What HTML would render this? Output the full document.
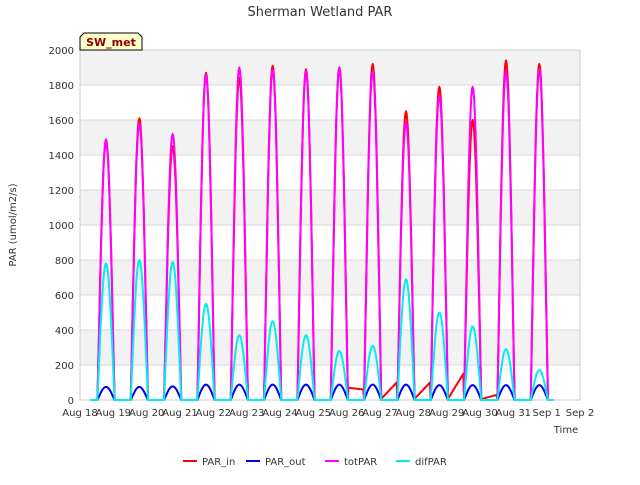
<!DOCTYPE html>
<html><head><meta charset="utf-8"><style>
body{margin:0;background:#fff;font-family:"Liberation Sans","DejaVu Sans",sans-serif}
svg text{font-family:"DejaVu Sans","Liberation Sans",sans-serif}
</style></head><body>
<svg id="c" width="640" height="480" xmlns="http://www.w3.org/2000/svg">
<text x="320" y="16" text-anchor="middle" font-size="13" fill="#333">Sherman Wetland PAR</text>
<g id="bands"></g>
<g id="grid"></g>
<g id="series"></g>
<g id="axes"></g>
<text x="16" y="225" transform="rotate(-90 16 225)" text-anchor="middle" font-size="10" fill="#333">PAR (umol/m2/s)</text>
<text x="566" y="433" text-anchor="middle" font-size="10" fill="#333">Time</text>
<g>
<path d="M80,50 L80,37 L84,33 L138,33 L142,37 L142,50 Z" fill="#ffffcc" stroke="#000" stroke-width="1"/>
<text x="111" y="46" text-anchor="middle" font-size="11" font-weight="bold" fill="#8b0000">SW_met</text>
</g>
<g id="legend"></g>
</svg>
<script>
const NS="http://www.w3.org/2000/svg";
const days=["Aug 18","Aug 19","Aug 20","Aug 21","Aug 22","Aug 23","Aug 24","Aug 25","Aug 26","Aug 27","Aug 28","Aug 29","Aug 30","Aug 31","Sep 1","Sep 2"];
const yTicks=[0,200,400,600,800,1000,1200,1400,1600,1800,2000];
const parInPeaks=[1480,1610,1450,1870,1840,1910,1890,1900,1920,1650,1790,1600,1940,1920];
const totParPeaks=[1490,1580,1520,1860,1900,1890,1880,1900,1880,1590,1740,1790,1880,1890];
const difParPeaks=[780,800,790,550,370,450,370,280,310,690,500,420,290,170];
const parOutPeaks=[75,75,78,88,88,88,88,88,88,88,85,85,85,85];
const parInNight=[[8.05,70],[8.5,60],[9.05,10],[9.5,100],[10.05,10],[10.5,100],[11.05,10],[11.5,150],[12.05,5],[12.5,30]];
const X0=80,X1=580,Y0=400,Y1=50;
const xs=t=>X0+(X1-X0)*t/15;
const ys=v=>Y0-(Y0-Y1)*v/2000;
const svg=document.getElementById('c');
function el(tag,attrs,parent){const e=document.createElementNS(NS,tag);for(const k in attrs)e.setAttribute(k,attrs[k]);parent.appendChild(e);return e;}
const bands=document.getElementById('bands');
for(let i=0;i<yTicks.length-1;i++){
  const r=el('rect',{x:X0,y:ys(yTicks[i+1]),width:X1-X0,height:ys(yTicks[i])-ys(yTicks[i+1]),fill:i%2?'#f2f2f2':'#ffffff'},bands);
  
  
}
const grid=document.getElementById('grid'),axes=document.getElementById('axes');
yTicks.forEach(v=>{
  const l=el('line',{x1:X0,x2:X1,y1:ys(v),y2:ys(v),stroke:'#d8d8d8','stroke-width':1},grid);
  
  
  const t=el('text',{x:X0-6,y:ys(v)+4,'text-anchor':'end','font-size':10,fill:'#333'},axes);
  t.textContent=v;
  
  
});
el('rect',{x:X0,y:Y1,width:X1-X0,height:Y0-Y1,fill:'none',stroke:'#ccc'},grid);
days.forEach((d,i)=>{
  const t=el('text',{x:xs(i),y:Y0+16,'text-anchor':'middle','font-size':10,fill:'#333'},axes);
  t.textContent=d;
  
  
});
function dayShape(frac){
  if(frac<=0||frac>=1)return 0;
  return Math.pow(Math.sin(Math.PI*frac),1.1);
}
function series(peaks,night){
  const pts=[];
  const n=peaks.length;
  pts.push([0.3,0]);
  for(let d=0;d<n;d++){
    const s=d+0.52,e=d+1.04;
    pts.push([s,0]);
    for(let k=1;k<24;k++){const f=k/24;pts.push([s+(e-s)*f,peaks[d]*dayShape(f)]);}
    pts.push([e,0]);
    if(night){night.filter(p=>p[0]>e&&p[0]<d+1.52).forEach(p=>pts.push(p));}
  }
  pts.push([14.2,0]);
  return pts;
}
const sg=document.getElementById('series');
function draw(peaks,color,name,w,night){
  const pts=series(peaks,night);
  const p=el('polyline',{points:pts.map(q=>xs(q[0]).toFixed(1)+','+ys(q[1]).toFixed(1)).join(' '),fill:'none',stroke:color,'stroke-width':w,'stroke-linejoin':'round'},sg);
  
  
}
draw(parInPeaks,'#ff0000','par-in-line',2,parInNight);
draw(parOutPeaks,'#0000ee','par-out-line',2);
draw(totParPeaks,'#ff00ff','totpar-line',2);
draw(difParPeaks,'#00eeee','difpar-line',2);
const legend=document.getElementById('legend');
const items=[['PAR_in','#ff0000',183],['PAR_out','#0000ee',246],['totPAR','#ff00ff',325],['difPAR','#00eeee',396]];
items.forEach(it=>{
  const g=el('g',{},legend);
  
  
  el('line',{x1:it[2],x2:it[2]+14,y1:461,y2:461,stroke:it[1],'stroke-width':2},g);
  const t=el('text',{x:it[2]+19,y:465,'font-size':10,fill:'#333'},g);
  t.textContent=it[0];
});
</script>
</body></html>
